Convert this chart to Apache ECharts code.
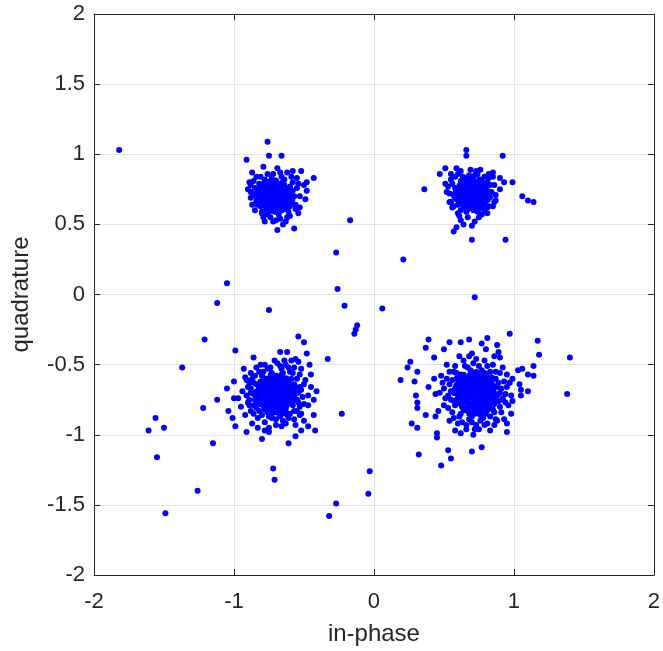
<!DOCTYPE html>
<html>
<head>
<meta charset="utf-8">
<script src="https://cdn.jsdelivr.net/npm/echarts@6/dist/echarts.min.js"></script>
<style>html,body{margin:0;padding:0;background:#fff;}#chart{width:663px;height:651px;}</style>
</head>
<body>
<div id="chart"></div>
<script>
// Axis labels and ticks
const xAxisName = 'in-phase';
const yAxisName = 'quadrature';
const xTicks = [-2, -1, 0, 1, 2];
const yTicks = [-2, -1.5, -1, -0.5, 0, 0.5, 1, 1.5, 2];

// Top-left cluster (in-phase, quadrature): spread points
const clusterTL = [
[-0.71,0.70],[-0.68,0.72],[-0.74,0.68],[-0.70,0.65],[-0.66,0.69],[-0.76,0.72],[-0.72,0.75],[-0.69,0.78],[-0.64,0.74],[-0.78,0.66],
[-0.73,0.62],[-0.67,0.63],[-0.62,0.67],[-0.80,0.70],[-0.75,0.77],[-0.70,0.81],[-0.65,0.79],[-0.61,0.71],[-0.82,0.74],[-0.77,0.61],
[-0.71,0.59],[-0.63,0.61],[-0.59,0.66],[-0.84,0.66],[-0.79,0.79],[-0.73,0.83],[-0.66,0.84],[-0.60,0.77],[-0.57,0.70],[-0.86,0.71],
[-0.81,0.63],[-0.76,0.57],[-0.68,0.57],[-0.61,0.59],[-0.58,0.74],[-0.69,0.68],[-0.72,0.71],[-0.74,0.73],[-0.67,0.66],[-0.70,0.74],
[-0.75,0.65],[-0.65,0.71],[-0.73,0.66],[-0.68,0.75],[-0.77,0.69],[-0.63,0.69],[-0.71,0.63],[-0.69,0.62],[-0.79,0.75],[-0.83,0.69],
[-0.85,0.76],[-0.87,0.64],[-0.78,0.82],[-0.64,0.82],[-0.56,0.64],[-0.55,0.76],[-0.80,0.59],[-0.62,0.55],[-0.74,0.55],[-0.88,0.78],
[-0.66,0.60],[-0.60,0.63],[-0.76,0.63],[-0.72,0.78],[-0.82,0.79],[-0.58,0.80],
[-0.76,1.09],[-0.91,0.96],[-0.75,0.99],[-0.66,0.99],[-0.79,0.91],[-0.87,0.87],[-0.52,0.88],[-0.58,0.88],[-0.43,0.83],[-0.48,0.80],
[-0.50,0.78],[-0.48,0.74],[-0.49,0.68],[-0.53,0.62],[-0.57,0.47],[-0.69,0.46],[-0.78,0.52],[-0.72,0.52],[-0.65,0.50],[-0.63,0.52],
[-0.67,0.54],[-0.89,0.80],[-0.88,0.73],[-0.83,0.64],[-0.80,0.58],[-0.55,0.83],[-0.72,0.86],[-0.69,0.90],[-0.62,0.87],[-0.84,0.84],[-0.54,0.58],
[-0.86,0.81],[-0.88,0.69],[-0.85,0.60],[-0.79,0.55],[-0.70,0.53],[-0.60,0.56],[-0.56,0.61],[-0.53,0.70],[-0.54,0.79],[-0.59,0.84],
[-0.67,0.87],[-0.76,0.86],[-0.81,0.84],[-0.90,0.75]
];
// Top-left cluster: dense core
const coreTL = [
[-0.745,0.805],[-0.702,0.812],[-0.658,0.797],
[-0.772,0.781],[-0.728,0.786],[-0.683,0.774],[-0.641,0.783],
[-0.803,0.757],[-0.754,0.763],[-0.713,0.752],[-0.668,0.766],[-0.627,0.755],
[-0.815,0.736],[-0.768,0.741],[-0.731,0.734],[-0.688,0.745],[-0.649,0.731],[-0.606,0.742],
[-0.794,0.718],[-0.752,0.716],[-0.706,0.724],[-0.672,0.711],[-0.628,0.719],
[-0.823,0.697],[-0.784,0.693],[-0.738,0.701],[-0.697,0.689],[-0.657,0.703],[-0.618,0.694],[-0.594,0.708],
[-0.806,0.678],[-0.761,0.672],[-0.719,0.681],[-0.679,0.668],[-0.637,0.677],
[-0.812,0.657],[-0.773,0.654],[-0.734,0.661],[-0.692,0.649],[-0.652,0.658],[-0.612,0.651],
[-0.788,0.638],[-0.749,0.633],[-0.709,0.642],[-0.668,0.631],[-0.628,0.639],
[-0.766,0.617],[-0.727,0.611],[-0.686,0.622],[-0.647,0.614],
[-0.741,0.596],[-0.703,0.591],[-0.661,0.601],
[-0.845,0.718],[-0.838,0.678],[-0.826,0.752],[-0.583,0.676],[-0.597,0.728]
];

// Top-right cluster: spread points
const clusterTR = [
[0.70,0.72],[0.73,0.74],[0.67,0.70],[0.71,0.68],[0.75,0.71],[0.65,0.74],[0.69,0.77],[0.72,0.80],[0.77,0.77],[0.63,0.69],
[0.68,0.65],[0.74,0.65],[0.79,0.70],[0.61,0.73],[0.66,0.79],[0.70,0.83],[0.76,0.82],[0.80,0.75],[0.59,0.68],[0.64,0.63],
[0.71,0.61],[0.78,0.63],[0.82,0.69],[0.58,0.76],[0.62,0.81],[0.68,0.85],[0.74,0.86],[0.81,0.80],[0.84,0.73],[0.57,0.71],
[0.60,0.64],[0.66,0.59],[0.74,0.59],[0.81,0.62],[0.69,0.70],[0.72,0.73],[0.66,0.72],[0.74,0.77],[0.68,0.74],[0.71,0.76],
[0.76,0.68],[0.64,0.67],[0.73,0.69],[0.67,0.67],[0.78,0.73],[0.62,0.77],[0.70,0.79],[0.65,0.83],[0.79,0.84],[0.83,0.78],
[0.56,0.79],[0.55,0.66],[0.62,0.60],[0.77,0.57],[0.86,0.66],[0.60,0.86],[0.75,0.63],[0.69,0.62],[0.63,0.72],[0.85,0.84],
[0.66,1.03],[0.66,0.99],[0.92,0.99],[0.36,0.75],[0.47,0.86],[0.51,0.90],[0.59,0.90],[0.99,0.80],[0.93,0.80],[0.90,0.83],
[0.85,0.87],[0.90,0.75],[0.87,0.67],[1.06,0.70],[1.10,0.67],[1.14,0.66],[0.51,0.79],[0.52,0.73],[0.54,0.66],[0.57,0.63],
[0.61,0.56],[0.62,0.53],[0.64,0.50],[0.59,0.48],[0.57,0.45],[0.70,0.39],[0.94,0.39],[0.70,0.49],[0.72,0.52],[0.79,0.59],
[0.82,0.63],[0.82,0.83],[0.73,0.88],[0.55,0.86],[0.53,0.77],
[0.55,0.82],[0.54,0.72],[0.56,0.62],[0.60,0.58],[0.67,0.55],[0.75,0.55],[0.81,0.58],[0.85,0.63],[0.87,0.71],[0.86,0.78],
[0.82,0.86],[0.76,0.89],[0.69,0.89],[0.62,0.88],[0.58,0.84]
];
// Top-right cluster: dense core
const coreTR = [
[0.665,0.825],[0.708,0.832],[0.752,0.818],
[0.638,0.803],[0.684,0.806],[0.727,0.797],[0.771,0.804],
[0.612,0.779],[0.656,0.784],[0.698,0.772],[0.743,0.781],[0.786,0.775],
[0.598,0.756],[0.637,0.761],[0.678,0.752],[0.721,0.759],[0.762,0.753],[0.803,0.761],
[0.617,0.738],[0.659,0.732],[0.702,0.741],[0.744,0.733],[0.785,0.739],
[0.593,0.716],[0.636,0.713],[0.681,0.719],[0.723,0.711],[0.767,0.717],[0.808,0.712],
[0.611,0.694],[0.652,0.691],[0.697,0.698],[0.739,0.689],[0.781,0.696],
[0.603,0.671],[0.642,0.673],[0.686,0.668],[0.728,0.676],[0.771,0.667],[0.812,0.674],
[0.624,0.652],[0.667,0.647],[0.709,0.654],[0.751,0.645],[0.791,0.651],
[0.646,0.628],[0.688,0.624],[0.731,0.631],[0.772,0.622],
[0.668,0.604],[0.711,0.601],[0.749,0.607],
[0.584,0.736],[0.576,0.694],[0.826,0.733],[0.829,0.693],[0.636,0.840],[0.722,0.852]
];

// Bottom-left cluster: spread points
const clusterBL = [
[-0.70,-0.71],[-0.67,-0.68],[-0.73,-0.74],[-0.72,-0.67],[-0.66,-0.74],[-0.76,-0.70],[-0.69,-0.77],[-0.64,-0.70],[-0.75,-0.64],[-0.70,-0.63],
[-0.63,-0.65],[-0.79,-0.74],[-0.74,-0.79],[-0.66,-0.80],[-0.61,-0.75],[-0.60,-0.68],[-0.78,-0.66],[-0.81,-0.70],[-0.77,-0.60],[-0.68,-0.59],
[-0.62,-0.61],[-0.58,-0.72],[-0.83,-0.77],[-0.78,-0.82],[-0.71,-0.84],[-0.63,-0.83],[-0.58,-0.79],[-0.56,-0.66],[-0.84,-0.64],[-0.80,-0.58],
[-0.73,-0.56],[-0.65,-0.56],[-0.59,-0.60],[-0.55,-0.75],[-0.86,-0.71],[-0.82,-0.83],[-0.75,-0.87],[-0.67,-0.87],[-0.60,-0.85],[-0.54,-0.70],
[-0.87,-0.60],[-0.71,-0.76],[-0.69,-0.66],[-0.74,-0.71],[-0.65,-0.72],[-0.72,-0.62],[-0.68,-0.81],[-0.77,-0.77],[-0.62,-0.78],[-0.80,-0.62],
[-0.64,-0.60],[-0.57,-0.64],[-0.85,-0.75],[-0.76,-0.84],[-0.61,-0.88],[-0.52,-0.68],[-0.88,-0.67],[-0.79,-0.55],[-0.66,-0.53],[-0.70,-0.89],
[-0.53,-0.80],[-0.90,-0.77],[-0.72,-0.69],[-0.67,-0.75],[-0.75,-0.67],[-0.69,-0.73],[-0.63,-0.68],[-0.78,-0.71],[-0.71,-0.58],[-0.60,-0.73],
[-0.82,-0.67],[-0.74,-0.61],[-0.58,-0.56],[-0.84,-0.81],[-0.65,-0.90],[-0.55,-0.83],[-0.89,-0.63],[-0.61,-0.52],[-0.76,-0.53],[-0.86,-0.85],
[-1.05,0.08],[-1.12,-0.06],[-0.75,-0.11],[-1.21,-0.32],[-0.99,-0.40],[-1.37,-0.52],[-0.54,-0.30],[-0.50,-0.34],[-0.33,-0.46],[-0.23,-0.85],
[-1.56,-0.88],[-1.61,-0.97],[-1.50,-0.95],[-1.22,-0.81],[-1.15,-1.06],[-1.55,-1.16],[-1.26,-1.40],[-1.49,-1.56],[-0.72,-1.24],[-0.71,-1.32],
[-1.00,-0.62],[-1.05,-0.67],[-1.12,-0.75],[-1.00,-0.74],[-1.04,-0.83],[-1.01,-0.88],[-0.99,-0.94],[-0.91,-0.98],[-0.80,-1.03],[-0.75,-0.98],
[-0.61,-1.06],[-0.56,-1.01],[-0.52,-0.97],[-0.42,-0.97],[-0.47,-0.94],[-0.43,-0.86],[-0.52,-0.85],[-0.43,-0.75],[-0.41,-0.69],[-0.45,-0.66],
[-0.46,-0.50],[-0.48,-0.42],[-0.45,-0.57],[-0.86,-0.45],[-0.62,-0.41],[-0.67,-0.41],[-0.56,-0.46],[-0.91,-0.61],[-0.94,-0.69],[-0.89,-0.75],
[-0.89,-0.79],[-0.92,-0.86],[-0.87,-0.92],[-0.83,-0.95],[-0.75,-0.95],[-0.66,-0.94],[-0.56,-0.93],[-0.50,-0.90],[-0.47,-0.79],[-0.49,-0.61],
[-0.52,-0.53],[-0.59,-0.47],[-0.71,-0.47],[-0.81,-0.50],[-0.93,-0.53],[-0.97,-0.74],
[-0.88,-0.56],[-0.84,-0.52],[-0.78,-0.50],[-0.69,-0.49],[-0.63,-0.50],[-0.57,-0.52],[-0.53,-0.57],[-0.50,-0.64],[-0.51,-0.73],[-0.50,-0.78],
[-0.53,-0.86],[-0.57,-0.89],[-0.63,-0.92],[-0.70,-0.93],[-0.78,-0.91],[-0.83,-0.88],[-0.88,-0.83],[-0.91,-0.72],[-0.90,-0.66],[-0.92,-0.59],
[-0.85,-0.58],[-0.82,-0.55],[-0.74,-0.52],[-0.67,-0.51],[-0.60,-0.55],[-0.55,-0.60],[-0.53,-0.66],[-0.54,-0.77],[-0.57,-0.83],[-0.62,-0.86],
[-0.73,-0.88],[-0.80,-0.86],[-0.86,-0.79],[-0.88,-0.70],[-0.86,-0.63],[-0.64,-0.47],[-0.54,-0.48],[-0.47,-0.72],[-0.95,-0.80],[-0.78,-0.97]
];
// Bottom-left cluster: dense core
const coreBL = [
[-0.738,-0.574],[-0.697,-0.579],[-0.659,-0.571],
[-0.786,-0.598],[-0.748,-0.603],[-0.709,-0.596],[-0.668,-0.604],[-0.627,-0.597],
[-0.812,-0.622],[-0.771,-0.617],[-0.731,-0.624],[-0.688,-0.619],[-0.651,-0.626],[-0.608,-0.618],
[-0.829,-0.646],[-0.792,-0.641],[-0.753,-0.648],[-0.712,-0.643],[-0.671,-0.649],[-0.631,-0.641],[-0.589,-0.647],
[-0.818,-0.668],[-0.776,-0.663],[-0.737,-0.669],[-0.697,-0.662],[-0.658,-0.671],[-0.617,-0.664],[-0.578,-0.669],
[-0.843,-0.692],[-0.801,-0.687],[-0.762,-0.694],[-0.721,-0.688],[-0.683,-0.695],[-0.642,-0.689],[-0.603,-0.693],[-0.562,-0.688],
[-0.827,-0.713],[-0.789,-0.709],[-0.748,-0.716],[-0.708,-0.711],[-0.668,-0.714],[-0.627,-0.708],[-0.586,-0.715],
[-0.838,-0.737],[-0.797,-0.733],[-0.758,-0.739],[-0.717,-0.732],[-0.679,-0.738],[-0.639,-0.734],[-0.598,-0.739],[-0.568,-0.731],
[-0.816,-0.757],[-0.777,-0.753],[-0.736,-0.759],[-0.697,-0.754],[-0.657,-0.761],[-0.618,-0.755],[-0.579,-0.759],
[-0.807,-0.782],[-0.768,-0.777],[-0.728,-0.783],[-0.688,-0.778],[-0.648,-0.784],[-0.611,-0.779],
[-0.786,-0.803],[-0.747,-0.798],[-0.709,-0.805],[-0.669,-0.799],[-0.628,-0.804],
[-0.757,-0.826],[-0.719,-0.821],[-0.679,-0.828],[-0.641,-0.822],
[-0.728,-0.847],[-0.688,-0.843],[-0.652,-0.849]
];

// Bottom-right cluster: spread points
const clusterBR = [
[0.73,-0.70],[0.76,-0.67],[0.70,-0.73],[0.71,-0.66],[0.77,-0.74],[0.67,-0.69],[0.74,-0.77],[0.79,-0.70],[0.68,-0.63],[0.74,-0.62],
[0.81,-0.66],[0.65,-0.75],[0.70,-0.80],[0.78,-0.80],[0.83,-0.73],[0.63,-0.68],[0.66,-0.60],[0.73,-0.57],[0.80,-0.60],[0.85,-0.68],
[0.61,-0.74],[0.64,-0.82],[0.72,-0.85],[0.80,-0.85],[0.86,-0.78],[0.60,-0.64],[0.62,-0.57],[0.69,-0.54],[0.77,-0.54],[0.84,-0.59],
[0.88,-0.72],[0.58,-0.79],[0.61,-0.87],[0.68,-0.89],[0.76,-0.90],[0.83,-0.87],[0.89,-0.63],[0.57,-0.70],[0.72,-0.74],[0.75,-0.71],
[0.69,-0.68],[0.71,-0.77],[0.78,-0.65],[0.66,-0.72],[0.75,-0.64],[0.80,-0.76],[0.70,-0.61],[0.64,-0.65],[0.82,-0.70],[0.67,-0.79],
[0.74,-0.81],[0.77,-0.58],[0.59,-0.60],[0.55,-0.75],[0.90,-0.80],[0.87,-0.55],[0.65,-0.51],[0.81,-0.51],[0.56,-0.84],[0.66,-0.93],
[0.79,-0.93],[0.91,-0.67],[0.54,-0.64],[0.71,-0.49],[0.86,-0.84],[0.60,-0.92],[0.92,-0.74],[0.73,-0.93],[0.57,-0.55],[0.84,-0.63],
[0.62,-0.78],[0.69,-0.84],[0.76,-0.86],[0.82,-0.81],[0.63,-0.61],[0.71,-0.59],[0.79,-0.56],[0.88,-0.66],[0.58,-0.67],[0.68,-0.72],
[0.74,-0.67],[0.72,-0.64],[0.77,-0.78],[0.85,-0.75],[0.61,-0.71],[0.66,-0.66],[0.80,-0.72],[0.70,-0.87],[0.53,-0.72],[0.94,-0.71],
[0.72,-0.02],[0.97,-0.28],[1.17,-0.33],[1.18,-0.43],[1.40,-0.45],[1.38,-0.71],[0.39,-0.32],[0.37,-0.38],[0.26,-0.48],[0.24,-0.52],
[0.19,-0.61],[0.29,-0.62],[0.31,-0.55],[0.30,-0.72],[0.31,-0.77],[0.31,-0.81],[0.37,-0.86],[0.27,-0.92],[0.31,-0.95],[0.45,-0.99],
[0.45,-1.02],[0.32,-1.14],[0.48,-1.22],[0.55,-1.17],[0.53,-1.11],[0.70,-1.12],[0.77,-1.09],[0.71,-1.00],[0.75,-0.96],[0.95,-0.98],
[0.95,-0.92],[0.98,-0.85],[0.99,-0.76],[1.05,-0.72],[1.10,-0.69],[1.05,-0.68],[1.04,-0.64],[0.99,-0.60],[1.03,-0.54],[1.06,-0.53],
[1.10,-0.57],[1.14,-0.58],[1.14,-0.51],[0.95,-0.57],[0.90,-0.45],[0.89,-0.41],[0.88,-0.36],[0.81,-0.31],[0.77,-0.35],[0.68,-0.32],
[0.62,-0.34],[0.54,-0.34],[0.50,-0.39],[0.43,-0.45],[0.61,-0.44],[0.70,-0.42],[0.80,-0.39],[0.39,-0.66],[0.44,-0.71],[0.50,-0.79],
[0.54,-0.90],[0.58,-0.97],[0.66,-0.96],[0.86,-0.93],[0.88,-0.90],[0.93,-0.89],[0.96,-0.79],[0.92,-0.75],[0.48,-0.58],[0.46,-0.83],
[0.52,-0.50],[0.92,-0.52],
[0.54,-0.55],[0.58,-0.51],[0.64,-0.47],[0.73,-0.46],[0.79,-0.47],[0.85,-0.50],[0.90,-0.56],[0.93,-0.62],[0.95,-0.66],[0.94,-0.77],
[0.91,-0.84],[0.87,-0.89],[0.81,-0.92],[0.72,-0.96],[0.63,-0.91],[0.57,-0.88],[0.53,-0.81],[0.51,-0.74],[0.50,-0.67],[0.52,-0.60],
[0.56,-0.61],[0.59,-0.56],[0.67,-0.52],[0.75,-0.51],[0.83,-0.55],[0.87,-0.60],[0.90,-0.70],[0.89,-0.76],[0.85,-0.82],[0.78,-0.88],
[0.70,-0.91],[0.62,-0.85],[0.57,-0.76],[0.55,-0.69],[0.49,-0.63],[0.47,-0.70],[0.97,-0.63],[0.98,-0.72],[0.83,-0.97],[0.62,-0.99],
[0.68,-0.44],[0.86,-0.44],[0.43,-0.60],[0.44,-0.87]
];
// Bottom-right cluster: dense core
const coreBR = [
[0.692,-0.548],[0.731,-0.553],[0.768,-0.546],
[0.641,-0.573],[0.682,-0.578],[0.719,-0.571],[0.761,-0.577],[0.802,-0.572],
[0.618,-0.602],[0.659,-0.597],[0.701,-0.603],[0.738,-0.598],[0.779,-0.604],[0.821,-0.599],
[0.603,-0.626],[0.642,-0.621],[0.681,-0.628],[0.722,-0.623],[0.758,-0.629],[0.801,-0.622],[0.839,-0.627],
[0.588,-0.648],[0.628,-0.653],[0.669,-0.647],[0.709,-0.652],[0.748,-0.646],[0.791,-0.653],[0.829,-0.648],[0.862,-0.654],
[0.601,-0.677],[0.641,-0.672],[0.679,-0.678],[0.721,-0.673],[0.761,-0.679],[0.798,-0.674],[0.841,-0.677],
[0.579,-0.702],[0.622,-0.697],[0.661,-0.703],[0.699,-0.698],[0.742,-0.704],[0.781,-0.699],[0.819,-0.703],[0.858,-0.698],
[0.602,-0.726],[0.641,-0.721],[0.682,-0.727],[0.719,-0.722],[0.762,-0.728],[0.801,-0.723],[0.838,-0.727],
[0.589,-0.752],[0.631,-0.747],[0.668,-0.753],[0.711,-0.748],[0.749,-0.754],[0.791,-0.749],[0.828,-0.752],[0.861,-0.747],
[0.612,-0.776],[0.651,-0.772],[0.692,-0.778],[0.731,-0.773],[0.771,-0.777],[0.809,-0.771],[0.842,-0.776],
[0.629,-0.801],[0.671,-0.797],[0.709,-0.803],[0.751,-0.798],[0.789,-0.802],[0.822,-0.797],
[0.652,-0.826],[0.691,-0.822],[0.728,-0.828],[0.769,-0.823],[0.808,-0.827],
[0.681,-0.851],[0.719,-0.847],[0.758,-0.852]
];

// Scattered points between clusters
const strays = [
[-1.82,1.03],[-0.17,0.53],[-0.27,0.30],[0.21,0.25],[-0.26,0.04],[-0.21,-0.08],[0.06,-0.10],[-0.12,-0.22],[-0.13,-0.25],[-0.14,-0.28],
[-0.03,-1.26],[-0.04,-1.42],[-0.27,-1.49],[-0.32,-1.58]
];

const allPoints = [].concat(clusterTL, coreTL, clusterTR, coreTR, clusterBL, coreBL, clusterBR, coreBR, strays);

const FONT = 'Liberation Sans, Arial, sans-serif';
const INK = '#262626';
const chart = echarts.init(document.getElementById('chart'), null, {renderer: 'canvas'});

function axisCommon(showLabels) {
  return {
    type: 'value',
    axisLine: {show: true, onZero: false, lineStyle: {color: INK, width: 1}},
    axisTick: {show: true, inside: true, length: 6, lineStyle: {color: INK, width: 1}},
    axisLabel: {show: showLabels, color: INK, fontSize: 22, fontFamily: FONT},
    splitLine: {show: showLabels, lineStyle: {color: '#e3e3e3', width: 1}}
  };
}

const option = {
  backgroundColor: '#ffffff',
  animation: false,
  grid: {left: 94, top: 14, width: 562, height: 561, show: false},
  xAxis: [
    Object.assign(axisCommon(true), {
      position: 'bottom', min: xTicks[0], max: xTicks[xTicks.length - 1], interval: 1,
      name: xAxisName, nameLocation: 'middle', nameGap: 47,
      nameTextStyle: {color: INK, fontSize: 24, fontFamily: FONT},
      axisLabel: {show: true, color: INK, fontSize: 22, fontFamily: FONT, margin: 16}
    }),
    Object.assign(axisCommon(false), {
      position: 'top', min: xTicks[0], max: xTicks[xTicks.length - 1], interval: 1
    })
  ],
  yAxis: [
    Object.assign(axisCommon(true), {
      position: 'left', min: yTicks[0], max: yTicks[yTicks.length - 1], interval: 0.5,
      name: yAxisName, nameLocation: 'middle', nameGap: 61, nameRotate: 90,
      nameTextStyle: {color: INK, fontSize: 24, fontFamily: FONT},
      axisLabel: {show: true, color: INK, fontSize: 22, fontFamily: FONT, margin: 9}
    }),
    Object.assign(axisCommon(false), {
      position: 'right', min: yTicks[0], max: yTicks[yTicks.length - 1], interval: 0.5
    })
  ],
  series: [{
    type: 'scatter',
    xAxisIndex: 0,
    yAxisIndex: 0,
    data: allPoints,
    symbol: 'circle',
    symbolSize: 6,
    itemStyle: {color: '#0000ff', opacity: 1},
    emphasis: {disabled: true},
    silent: true
  }]
};
chart.setOption(option);
</script>
</body>
</html>
